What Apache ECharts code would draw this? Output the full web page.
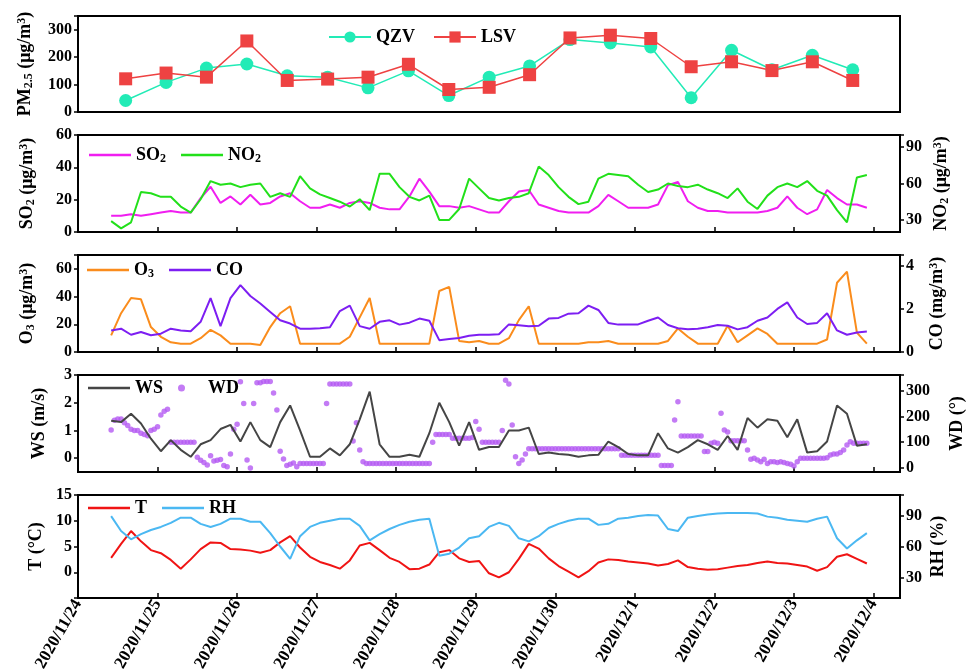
<!DOCTYPE html>
<html>
<head>
<meta charset="utf-8">
<script src="https://cdn.jsdelivr.net/npm/echarts@6/dist/echarts.min.js"></script>
<style>
  html, body { margin: 0; padding: 0; background: #fff; }
  #chart { width: 975px; height: 670px; }
</style>
</head>
<body>
<div id="chart"></div>
<script>
// Day ticks of the shared time axis (hours counted from 2020-11-24 00:00)
const dayLabels = ['2020/11/24', '2020/11/25', '2020/11/26', '2020/11/27', '2020/11/28',
  '2020/11/29', '2020/11/30', '2020/12/1', '2020/12/2', '2020/12/3', '2020/12/4'];

// PM2.5 half-daily means at the two sites (μg/m³)
const pmQZV = [42, 108, 160, 175, 132, 127, 88, 150, 60, 127, 168, 264, 252, 237, 52, 225, 154, 207, 154];
const pmLSV = [121, 142, 127, 259, 115, 120, 127, 174, 82, 90, 136, 270, 280, 268, 165, 183, 151, 183, 115];

// 3-hourly records, first one at 2020-11-24 10:00
const startHour = 10;
const stepHours = 3;
const so2 = [10, 10, 11, 10, 11, 12, 13, 12, 12, 21, 28, 18, 22, 17, 23, 17, 18, 22, 24, 19,
  15, 15, 17, 15, 18, 19, 18, 15, 14, 14, 22, 33, 25, 16, 16, 15, 16, 14, 12, 12,
  19, 25, 26, 17, 15, 13, 12, 12, 12, 16, 23, 19, 15, 15, 15, 17, 29, 31, 19, 15,
  13, 13, 12, 12, 12, 12, 13, 15, 22, 15, 11, 14, 26, 21, 17, 17, 15];
const no2 = [29, 23, 28, 53, 52, 49, 49, 41, 36, 47, 62, 59, 60, 57, 59, 60, 49, 52, 49, 66,
  56, 51, 48, 45, 41, 47, 38, 68, 68, 57, 49, 46, 50, 30, 30, 39, 64, 56, 48, 46,
  48, 49, 52, 74, 67, 57, 49, 43, 45, 64, 68, 67, 66, 59, 53, 55, 60, 58, 57, 59,
  55, 52, 48, 56, 45, 39, 50, 57, 60, 57, 62, 54, 50, 38, 28, 65, 67];
const o3 = [12, 28, 39, 38, 18, 11, 7, 6, 6, 10, 16, 12, 6, 6, 6, 5, 18, 28, 33, 6,
  6, 6, 6, 6, 11, 25, 39, 6, 6, 6, 6, 6, 6, 44, 47, 8, 7, 8, 6, 6,
  10, 23, 33, 6, 6, 6, 6, 6, 7, 7, 8, 6, 6, 6, 6, 6, 8, 17, 11, 6,
  6, 6, 19, 7, 12, 17, 13, 6, 6, 6, 6, 6, 9, 50, 58, 14, 6];
const co = [1.0, 1.08, 0.8, 0.93, 0.78, 0.85, 1.08, 1.0, 0.96, 1.4, 2.5, 1.2, 2.5, 3.1, 2.6, 2.25, 1.86, 1.47, 1.32, 1.08,
  1.08, 1.1, 1.15, 1.9, 2.15, 1.2, 1.08, 1.4, 1.47, 1.27, 1.36, 1.55, 1.45, 0.55, 0.6, 0.65, 0.75, 0.8, 0.8, 0.82,
  1.28, 1.24, 1.2, 1.22, 1.55, 1.58, 1.78, 1.8, 2.15, 1.95, 1.35, 1.27, 1.27, 1.28, 1.45, 1.6, 1.25, 1.1, 1.05, 1.08,
  1.15, 1.25, 1.22, 1.05, 1.15, 1.45, 1.6, 2.0, 2.3, 1.6, 1.3, 1.35, 1.8, 1.0, 0.8, 0.9, 0.95];
const ws = [1.35, 1.3, 1.6, 1.25, 0.7, 0.25, 0.65, 0.3, 0.05, 0.5, 0.65, 1.05, 1.2, 0.6, 1.3, 0.65, 0.4, 1.3, 1.9, 1.0,
  0.05, 0.05, 0.35, 0.1, 0.5, 1.4, 2.4, 0.5, 0.05, 0.05, 0.12, 0.05, 0.9, 2.0, 1.3, 0.45, 1.3, 0.3, 0.4, 0.4,
  1.0, 1.0, 1.1, 0.15, 0.2, 0.15, 0.12, 0.05, 0.1, 0.12, 0.6, 0.4, 0.15, 0.1, 0.1, 0.9, 0.35, 0.2, 0.4, 0.65,
  0.5, 0.3, 0.8, 0.3, 1.45, 1.1, 1.4, 1.35, 0.75, 1.4, 0.2, 0.25, 0.6, 1.9, 1.6, 0.45, 0.5];
const temp = [2.8, 5.5, 8.0, 6.0, 4.3, 3.7, 2.4, 0.7, 2.5, 4.5, 5.8, 5.7, 4.5, 4.4, 4.2, 3.8, 4.3, 5.8, 7.0, 4.8,
  3.0, 2.0, 1.4, 0.7, 2.3, 5.2, 5.7, 4.3, 2.8, 2.0, 0.6, 0.7, 1.5, 3.9, 4.3, 2.7, 2.0, 2.2, -0.2, -1.0,
  0.0, 2.6, 5.5, 4.6, 2.7, 1.2, 0.1, -1.0, 0.2, 1.9, 2.5, 2.4, 2.1, 1.9, 1.7, 1.3, 1.6, 2.3, 1.0, 0.7,
  0.5, 0.6, 0.9, 1.2, 1.4, 1.8, 2.1, 1.8, 1.7, 1.4, 1.1, 0.3, 1.0, 3.0, 3.5, 2.6, 1.7];
const rh = [89.5, 75, 67, 72, 76, 79, 83, 88, 88, 82, 79, 82, 87, 87, 84, 84, 73, 60, 48, 70,
  79, 83, 85, 87, 87, 80, 66, 72, 77, 81, 84, 86, 87, 51, 53, 59, 68, 70, 79, 83,
  80, 68, 65, 70, 78, 82, 85, 87, 87, 81, 82, 87, 88, 89.6, 90.5, 90, 77, 75, 88, 89.6,
  91, 92, 92.5, 92.5, 92.5, 92, 89, 88, 86, 85, 84, 87, 89, 68, 58, 66, 73];

// Hourly wind direction (°), first one at 2020-11-24 10:00
const wdStartHour = 10;
const wd = [147, 185, 190, 190, 175, 165, 150, 145, 145, 135, 130, 125, 145, 150, 160, 205, 220, 228,
  100, 100, 100, 100, 100, 100, 100, 100,
  42, 30, 22, 12, 48, 28, 30, 33, 10, 5, 55,
  150, 170, 334, 250, 31, 0, 250, 330, 330, 335, 335, 335, 290, 225, 65, 35, 10, 15, 20, 5,
  18, 18, 18, 18, 18, 18, 18, 18,
  250,
  325, 325, 325, 325, 325, 325, 325,
  105, 175, 70, 25,
  18, 18, 18, 18, 18, 18, 18, 18, 18, 18, 18, 18, 18, 18, 18, 18, 18, 18, 18, 18,
  100, 130, 130, 130, 130, 130, 115, 115, 115, 115, 115, 115, 118, 180, 150,
  100, 100, 100, 100, 100, 100,
  145, 340, 325, 167, 44, 18, 31, 55,
  75, 75, 75, 75, 75, 75, 75, 75, 75, 75, 75, 75, 75, 75,
  75, 75, 75, 75, 75, 75, 75, 75, 75, 75, 75, 75, 75, 75,
  50, 50, 50, 50, 50, 50, 50, 50, 50, 50, 50, 50,
  10, 10, 10, 10,
  186, 257,
  124, 124, 124, 124, 124, 124, 124,
  64, 64, 96, 100, 96, 212, 147, 140,
  106, 106, 106, 106, 106,
  70, 34, 38, 31, 25, 34, 18, 25, 25, 22, 25, 22, 18, 15, 8, 25, 38, 38,
  38, 38, 38, 38, 38, 38,
  40, 51, 55, 55, 60, 70, 89, 102,
  96, 96, 96, 96, 96];

// Labelled values of each vertical axis
const pmTicks = [0, 100, 200, 300];
const so2Ticks = [0, 20, 40, 60];
const no2Ticks = [30, 60, 90];
const o3Ticks = [0, 20, 40, 60];
const coTicks = [0, 2, 4];
const wsTicks = [0, 1, 2, 3];
const wdTicks = [0, 100, 200, 300];
const tTicks = [0, 5, 10, 15];
const rhTicks = [30, 60, 90];

const dayTicks = dayLabels.map((_, i) => i * 24);
const FONT = "'Liberation Serif', 'Times New Roman', serif";
const LEFT = 78, RIGHT = 75;

const rich = {
  b:   { fontFamily: FONT, fontWeight: 'bold', fontSize: 18, lineHeight: 18, color: '#000', verticalAlign: 'top' },
  bp:  { fontFamily: FONT, fontWeight: 'bold', fontSize: 18, lineHeight: 18, color: '#000', verticalAlign: 'top', padding: [0, 0, 0, 18] },
  sub: { fontFamily: FONT, fontWeight: 'bold', fontSize: 12, lineHeight: 12, color: '#000', verticalAlign: 'top', padding: [7, 0, 0, 0] },
  sup: { fontFamily: FONT, fontWeight: 'bold', fontSize: 12, lineHeight: 12, color: '#000', verticalAlign: 'top' }
};

const legendText = {
  QZV: '{b|QZV}', LSV: '{b|LSV}',
  SO2: '{b|SO}{sub|2}', NO2: '{b|NO}{sub|2}',
  O3: '{b|O}{sub|3}', CO: '{b|CO}',
  WS: '{b|WS}', WD: '{bp|WD}',
  T: '{b|T}', RH: '{b|RH}'
};

const series3h = arr => arr.map((v, i) => [startHour + i * stepHours, v]);
const tickStyle = { color: '#000', width: 1.5 };
const noLine = { show: false, onZero: false };

// Value axis that carries the data, its labels and its title.
// When `interval` is given the ticks come from the axis itself, otherwise from a tick-only axis.
function yAxis(gridIndex, position, min, max, interval, labels, name, nameGap) {
  return {
    gridIndex, type: 'value', position, min, max, interval,
    axisLine: noLine,
    splitLine: { show: false },
    axisTick: { show: interval != null, inside: false, length: 4, lineStyle: tickStyle },
    axisLabel: { customValues: labels, margin: 6, fontFamily: FONT, fontWeight: 'bold', fontSize: 16, color: '#000' },
    name, nameLocation: 'middle', nameRotate: 90, nameGap, nameMoveOverlap: false,
    nameTextStyle: { rich }
  };
}

// Tick-only axis living in an invisible grid whose lower edge sits on the first tick value.
function tickAxis(gridIndex, position, min, max, interval) {
  return {
    gridIndex, type: 'value', position, min, max, interval,
    axisLine: noLine, splitLine: { show: false }, axisLabel: { show: false },
    axisTick: { show: true, inside: false, length: 4, lineStyle: tickStyle }
  };
}

function timeAxis(gridIndex, withLabels) {
  return {
    gridIndex, type: 'value', min: 0, max: 248, interval: 24,
    axisLine: noLine,
    splitLine: { show: false },
    axisTick: { show: true, inside: true, length: 5, lineStyle: tickStyle },
    axisLabel: {
      show: withLabels, customValues: dayTicks, rotate: 60, margin: 3,
      fontFamily: FONT, fontWeight: 'bold', fontSize: 17, color: '#000',
      formatter: v => dayLabels[Math.round(v / 24)]
    }
  };
}

const box = { left: LEFT, right: RIGHT, show: true, borderColor: '#000', borderWidth: 2, outerBoundsMode: 'none' };
const ghost = { left: LEFT, right: RIGHT, show: false, outerBoundsMode: 'none' };
const hiddenX = gridIndex => ({ gridIndex, type: 'value', show: false, axisLine: noLine });

function legend(names, left, top, extra) {
  return Object.assign({
    data: names.map(n => ({ name: n, icon: 'rect' })), left, top, orient: 'horizontal', padding: 0,
    itemWidth: 42, itemHeight: 2.5, itemGap: 15, selectedMode: false,
    textStyle: { fontFamily: FONT, fontWeight: 'bold', fontSize: 18, color: '#000', rich },
    formatter: n => legendText[n]
  }, extra || {});
}

const option = {
  animation: false,
  backgroundColor: '#fff',
  grid: [
    Object.assign({ top: 16, height: 96 }, box),
    Object.assign({ top: 135, height: 97 }, box),
    Object.assign({ top: 255, height: 97 }, box),
    Object.assign({ top: 375, height: 97 }, box),
    Object.assign({ top: 495, height: 103 }, box),
    // tick carriers: NO2 (30..100), WS (0..3), WD (0..360), RH (30..110)
    Object.assign({ top: 135, height: 84.9 }, ghost),
    Object.assign({ top: 375, height: 83.1 }, ghost),
    Object.assign({ top: 375, height: 93.1 }, ghost),
    Object.assign({ top: 495, height: 82.4 }, ghost)
  ],
  xAxis: [
    { gridIndex: 0, type: 'value', min: -1.18, max: 19.17, show: false, axisLine: noLine },
    timeAxis(1, false),
    timeAxis(2, false),
    timeAxis(3, false),
    timeAxis(4, true),
    hiddenX(5), hiddenX(6), hiddenX(7), hiddenX(8)
  ],
  yAxis: [
    yAxis(0, 'left', 0, 350, 100, pmTicks, '{b|PM}{sub|2.5}{b| (μg/m}{sup|3}{b|)}', 44),
    yAxis(1, 'left', 0, 60, 20, so2Ticks, '{b|SO}{sub|2}{b| (μg/m}{sup|3}{b|)}', 42),
    yAxis(1, 'right', 20, 100, null, no2Ticks, '{b|NO}{sub|2}{b| (μg/m}{sup|3}{b|)}', 32),
    yAxis(2, 'left', 0, 70, 20, o3Ticks, '{b|O}{sub|3}{b| (μg/m}{sup|3}{b|)}', 42),
    yAxis(2, 'right', 0, 4.5, 2, coTicks, '{b|CO (mg/m}{sup|3}{b|)}', 28),
    yAxis(3, 'left', -0.5, 3, null, wsTicks, '{b|WS (m/s)}', 30),
    yAxis(3, 'right', -15, 360, null, wdTicks, '{b|WD (°)}', 48),
    yAxis(4, 'left', -5, 15, 5, tTicks, '{b|T (°C)}', 33),
    yAxis(4, 'right', 10, 110, null, rhTicks, '{b|RH (%)}', 29),
    tickAxis(5, 'right', 30, 100, 30),
    tickAxis(6, 'left', 0, 3, 1),
    tickAxis(7, 'right', 0, 360, 100),
    tickAxis(8, 'right', 30, 110, 30)
  ],
  legend: [
    legend(['QZV', 'LSV'], 328, 28, { data: ['QZV', 'LSV'], itemHeight: 14, itemGap: 18 }),
    legend(['SO2', 'NO2'], 89, 146),
    legend(['O3', 'CO'], 87, 261),
    legend(['WS'], 88, 379),
    legend(['WD'], 178, 379, { data: [{ name: 'WD', icon: 'circle' }], itemWidth: 7, itemHeight: 7 }),
    legend(['T', 'RH'], 88, 499)
  ],
  series: [
    { name: 'QZV', type: 'line', xAxisIndex: 0, yAxisIndex: 0, data: pmQZV.map((v, i) => [i, v]),
      symbol: 'circle', symbolSize: 13, color: '#22EBB6', lineStyle: { width: 1.5 } },
    { name: 'LSV', type: 'line', xAxisIndex: 0, yAxisIndex: 0, data: pmLSV.map((v, i) => [i, v]),
      symbol: 'rect', symbolSize: 13, color: '#EE4242', lineStyle: { width: 1.5 } },
    { name: 'SO2', type: 'line', xAxisIndex: 1, yAxisIndex: 1, data: series3h(so2), symbol: 'none',
      color: '#F01EF0', lineStyle: { width: 2 } },
    { name: 'NO2', type: 'line', xAxisIndex: 1, yAxisIndex: 2, data: series3h(no2), symbol: 'none',
      color: '#22E01A', lineStyle: { width: 2 } },
    { name: 'O3', type: 'line', xAxisIndex: 2, yAxisIndex: 3, data: series3h(o3), symbol: 'none',
      color: '#FA8C1C', lineStyle: { width: 2 } },
    { name: 'CO', type: 'line', xAxisIndex: 2, yAxisIndex: 4, data: series3h(co), symbol: 'none',
      color: '#7D1EF2', lineStyle: { width: 2 } },
    { name: 'WS', type: 'line', xAxisIndex: 3, yAxisIndex: 5, data: series3h(ws), symbol: 'none',
      color: '#454545', lineStyle: { width: 2 } },
    { name: 'WD', type: 'scatter', xAxisIndex: 3, yAxisIndex: 6, data: wd.map((v, i) => [wdStartHour + i, v]),
      symbol: 'circle', symbolSize: 5.5, color: '#B45AF2' },
    { name: 'T', type: 'line', xAxisIndex: 4, yAxisIndex: 7, data: series3h(temp), symbol: 'none',
      color: '#F01414', lineStyle: { width: 2 } },
    { name: 'RH', type: 'line', xAxisIndex: 4, yAxisIndex: 8, data: series3h(rh), symbol: 'none',
      color: '#4BB8F2', lineStyle: { width: 2 } }
  ]
};

const chart = echarts.init(document.getElementById('chart'));
chart.setOption(option);
</script>
</body>
</html>
